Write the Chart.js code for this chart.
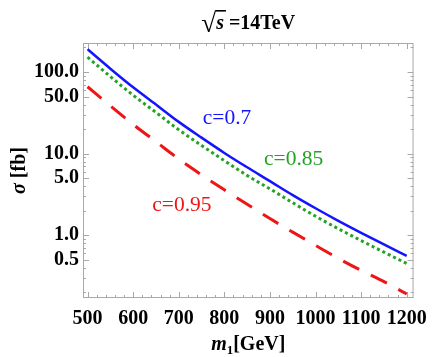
<!DOCTYPE html>
<html>
<head>
<meta charset="utf-8">
<script src="https://cdn.jsdelivr.net/npm/chart.js@4.4.0/dist/chart.umd.min.js"></script>
<style>body{margin:0;background:#fff}</style>
</head>
<body>
<canvas id="chart" width="436" height="357"></canvas>
<script>
var masses = [500, 550, 600, 650, 700, 750, 800, 850, 900, 950, 1000, 1050, 1100, 1150, 1200];
var sigma07 = [190, 110, 65, 40, 24.5, 15.7, 10.2, 6.8, 4.6, 3.1, 2.14, 1.5, 1.07, 0.77, 0.56];
var sigma085 = [152, 88, 52, 32, 19.6, 12.6, 8.2, 5.4, 3.7, 2.5, 1.71, 1.2, 0.86, 0.62, 0.45];
var sigma095 = [66, 38.5, 22.8, 14, 8.6, 5.5, 3.6, 2.4, 1.6, 1.09, 0.75, 0.52, 0.37, 0.27, 0.19];
var xTickValues = [500, 600, 700, 800, 900, 1000, 1100, 1200];
var yTickValues = [0.5, 1, 5, 10, 50, 100];

var serif = '"Liberation Serif", "Times New Roman", serif';
var blue = '#1414ff', green = '#22a322', red = '#f01515';

function points(ys) {
  return masses.map(function (m, i) { return {x: m, y: ys[i]}; });
}

// frame with inward ticks, like the original
var framePlugin = {
  id: 'frame',
  beforeDatasetsDraw: function (chart) {
    var ctx = chart.ctx, a = chart.chartArea, xs = chart.scales.x, ys = chart.scales.y;
    ctx.save();
    ctx.strokeStyle = '#a8a8a8';
    ctx.lineWidth = 1;
    ctx.strokeRect(a.left + 0.5, a.top + 0.5, a.right - a.left - 1, a.bottom - a.top - 1);
    ctx.beginPath();
    for (var m = 500; m <= 1200; m += 20) {
      var px = Math.round(xs.getPixelForValue(m)) + 0.5;
      var len = m % 100 === 0 ? 6 : 3;
      ctx.moveTo(px, a.bottom); ctx.lineTo(px, a.bottom - len);
      ctx.moveTo(px, a.top); ctx.lineTo(px, a.top + len);
    }
    for (var e = -1; e <= 2; e++) {
      for (var k = 1; k < 10; k++) {
        var v = k * Math.pow(10, e);
        if (v < ys.min || v > ys.max) continue;
        var py = Math.round(ys.getPixelForValue(v)) + 0.5;
        var l = (k === 1 || k === 5) ? 6 : 3;
        ctx.moveTo(a.left, py); ctx.lineTo(a.left + l, py);
        ctx.moveTo(a.right, py); ctx.lineTo(a.right - l, py);
      }
    }
    ctx.stroke();
    ctx.restore();
  }
};

// title, axis titles and curve labels
var textPlugin = {
  id: 'texts',
  afterDraw: function (chart) {
    var ctx = chart.ctx, a = chart.chartArea, xs = chart.scales.x, ys = chart.scales.y;
    var cx = (a.left + a.right) / 2;
    ctx.save();
    ctx.fillStyle = '#000';
    ctx.textBaseline = 'alphabetic';

    // title: sqrt(s) =14TeV
    var fRoot = 'bold 27px ' + serif, fS = 'italic bold 20px ' + serif, fB = 'bold 20px ' + serif;
    ctx.font = fRoot;
    var mr = ctx.measureText('\u221A'), w1 = mr.width;
    ctx.font = fS; var w2 = ctx.measureText('s').width;
    ctx.font = fB; var w3 = ctx.measureText(' =14TeV').width;
    var x0 = cx - (w1 + w2 + w3) / 2, base = 29;
    var rb = 33 - mr.actualBoundingBoxDescent, top = rb - mr.actualBoundingBoxAscent;
    ctx.font = fRoot; ctx.fillText('\u221A', x0, rb);
    ctx.font = fS; ctx.fillText('s', x0 + w1, base);
    ctx.font = fB; ctx.fillText(' =14TeV', x0 + w1 + w2, base);
    ctx.fillRect(x0 + mr.actualBoundingBoxRight - 1, top, w1 - mr.actualBoundingBoxRight + w2 + 3, 1.6);

    // x title: m1[GeV]
    var fM = 'italic bold 20px ' + serif, fSub = 'bold 13px ' + serif;
    ctx.font = fM; var wm = ctx.measureText('m').width;
    ctx.font = fSub; var w1s = ctx.measureText('1').width;
    ctx.font = fB; var wg = ctx.measureText('[GeV]').width;
    var xx = cx - (wm + w1s + wg) / 2, xb = 350;
    ctx.font = fM; ctx.fillText('m', xx, xb);
    ctx.font = fSub; ctx.fillText('1', xx + wm, xb + 4);
    ctx.font = fB; ctx.fillText('[GeV]', xx + wm + w1s, xb);

    // y title: sigma [fb]
    ctx.save();
    ctx.translate(25, (a.top + a.bottom) / 2);
    ctx.rotate(-Math.PI / 2);
    ctx.font = fM; var ws = ctx.measureText('\u03C3').width;
    ctx.font = fB; var wf = ctx.measureText(' [fb]').width;
    var yx = -(ws + wf) / 2;
    ctx.font = fM; ctx.fillText('\u03C3', yx, 0);
    ctx.font = fB; ctx.fillText(' [fb]', yx + ws, 0);
    ctx.restore();

    // curve labels
    ctx.font = '21.5px ' + serif;
    ctx.textAlign = 'center';
    ctx.textBaseline = 'middle';
    ctx.fillStyle = blue;
    ctx.fillText('c=0.7', xs.getPixelForValue(806), ys.getPixelForValue(27));
    ctx.fillStyle = green;
    ctx.fillText('c=0.85', xs.getPixelForValue(952), ys.getPixelForValue(8.5));
    ctx.fillStyle = red;
    ctx.fillText('c=0.95', xs.getPixelForValue(707), ys.getPixelForValue(2.33));
    ctx.restore();
  }
};

new Chart(document.getElementById('chart'), {
  type: 'line',
  data: {
    datasets: [
      {data: points(sigma07), borderColor: blue, borderWidth: 2.5, pointRadius: 0, cubicInterpolationMode: 'monotone'},
      {data: points(sigma085), borderColor: green, borderWidth: 3, borderDash: [3, 3], pointRadius: 0, cubicInterpolationMode: 'monotone'},
      {data: points(sigma095), borderColor: red, borderWidth: 3, borderDash: [18, 13], pointRadius: 0, cubicInterpolationMode: 'monotone'}
    ]
  },
  options: {
    responsive: false,
    animation: false,
    layout: {padding: {top: 43, right: 14, left: 0, bottom: 0}},
    plugins: {legend: {display: false}, tooltip: {enabled: false}},
    scales: {
      x: {
        type: 'linear', min: 490, max: 1215,
        afterBuildTicks: function (s) { s.ticks = xTickValues.map(function (v) { return {value: v}; }); },
        afterFit: function (s) { s.height = 59; },
        ticks: {font: {family: serif, size: 20, weight: 'bold'}, color: '#000', padding: 9, maxRotation: 0, autoSkip: false,
          callback: function (v) { return String(v); }},
        grid: {display: false, drawTicks: false},
        border: {display: false}
      },
      y: {
        type: 'logarithmic', min: 0.17, max: 227,
        afterBuildTicks: function (s) { s.ticks = yTickValues.map(function (v) { return {value: v}; }); },
        afterFit: function (s) { s.width = 83; },
        ticks: {font: {family: serif, size: 20, weight: 'bold'}, color: '#000', padding: 4, autoSkip: false,
          callback: function (v) { return Number(v).toFixed(1); }},
        grid: {display: false, drawTicks: false},
        border: {display: false}
      }
    }
  },
  plugins: [framePlugin, textPlugin]
});
</script>
</body>
</html>
